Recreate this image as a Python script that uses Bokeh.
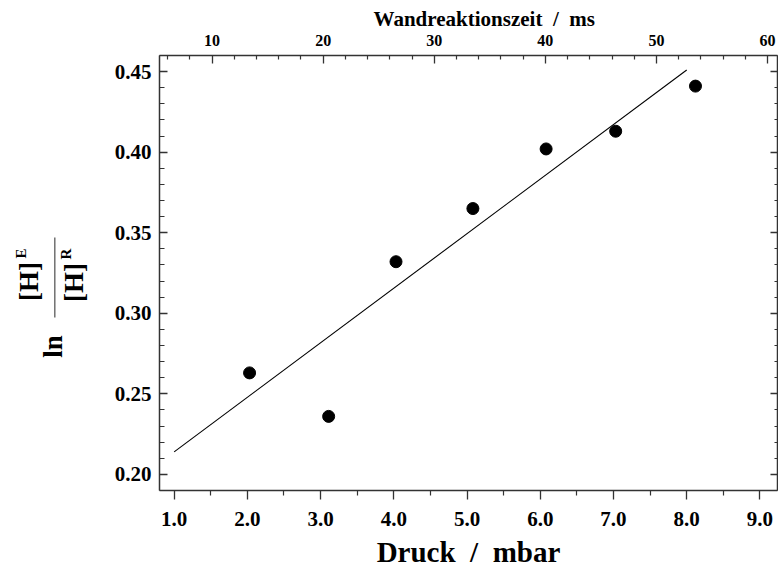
import math
from bokeh.plotting import figure
from bokeh.layouts import row
from bokeh.models import (LinearAxis, Range1d, FixedTicker, PrintfTickFormatter,
                          Label, BoxAnnotation)
from bokeh.embed import file_html
from bokeh.resources import INLINE

# ---- data ----
pressure_mbar = [2.03, 3.11, 4.03, 5.08, 6.08, 7.03, 8.12]
ln_ratio = [0.263, 0.236, 0.332, 0.365, 0.402, 0.413, 0.441]
fit_pressure = [1.0, 8.0]
fit_ln_ratio = [0.214, 0.451]

x_ticks = [1.0, 2.0, 3.0, 4.0, 5.0, 6.0, 7.0, 8.0, 9.0]
x_minor_ticks = [1.5, 2.5, 3.5, 4.5, 5.5, 6.5, 7.5, 8.5]
y_ticks = [0.20, 0.25, 0.30, 0.35, 0.40, 0.45]
y_minor_ticks = [round(0.19 + 0.01 * i, 2) for i in range(28)]
ms_ticks = [10, 20, 30, 40, 50, 60]
ms_minor_ticks = [6, 8, 12, 14, 16, 18, 22, 24, 26, 28, 32, 34, 36, 38,
                  42, 44, 46, 48, 52, 54, 56, 58]
MS_PER_MBAR = 6.59

X0, X1 = 0.8, 9.24
Y0, Y1 = 0.19, 0.46

TOTAL_W, H = 778, 571
LEFT_W = 100
W = TOTAL_W - LEFT_W
BL, BR, BT, BB = 59, 1, 55, 81
FONT = "Liberation Serif"
AXC = "#333333"
NB = "\u00a0"

p = figure(width=W, height=H, x_range=Range1d(X0, X1), y_range=Range1d(Y0, Y1),
           output_backend="svg", toolbar_location=None,
           min_border_left=BL, min_border_right=BR, min_border_top=BT,
           min_border_bottom=BB)
p.extra_x_ranges = {"ms": Range1d(X0 * MS_PER_MBAR, X1 * MS_PER_MBAR)}
p.outline_line_color = None
p.xgrid.visible = False
p.ygrid.visible = False
p.background_fill_color = "white"
p.border_fill_color = "white"


def style_axis(a):
    a.axis_line_color = AXC
    a.axis_line_width = 1.5
    a.major_tick_line_color = AXC
    a.minor_tick_line_color = AXC
    a.major_tick_line_width = 1.3
    a.minor_tick_line_width = 1.2
    a.major_label_text_color = "black"
    a.axis_label_text_color = "black"


# bottom axis
xa = p.xaxis[0]
xa.ticker = FixedTicker(ticks=x_ticks, minor_ticks=x_minor_ticks)
xa.formatter = PrintfTickFormatter(format="%.1f")
xa.axis_label = "Druck" + NB * 2 + "/" + NB * 2 + "mbar"
xa.axis_label_text_font = FONT
xa.axis_label_text_font_style = "bold"
xa.axis_label_text_font_size = "29px"
xa.axis_label_standoff = 7
xa.major_label_text_font = FONT
xa.major_label_text_font_style = "bold"
xa.major_label_text_font_size = "21px"
xa.major_label_standoff = 12
xa.major_tick_in = 0
xa.major_tick_out = 9
xa.minor_tick_in = 0
xa.minor_tick_out = 5
style_axis(xa)

# left axis
ya = p.yaxis[0]
ya.ticker = FixedTicker(ticks=y_ticks, minor_ticks=y_minor_ticks)
ya.formatter = PrintfTickFormatter(format="%.2f")
ya.major_label_text_font = FONT
ya.major_label_text_font_style = "bold"
ya.major_label_text_font_size = "21px"
ya.major_label_standoff = 8
ya.major_tick_in = 8
ya.major_tick_out = 0
ya.minor_tick_in = 5
ya.minor_tick_out = 0
style_axis(ya)

# top axis (ms)
ta = LinearAxis(x_range_name="ms",
                ticker=FixedTicker(ticks=ms_ticks, minor_ticks=ms_minor_ticks),
                formatter=PrintfTickFormatter(format="%d"))
ta.axis_label = NB * 6 + "Wandreaktionszeit" + NB * 2 + "/" + NB * 2 + "ms"
ta.axis_label_text_font = FONT
ta.axis_label_text_font_style = "bold"
ta.axis_label_text_font_size = "21px"
ta.axis_label_standoff = 1
ta.major_label_text_font = FONT
ta.major_label_text_font_style = "bold"
ta.major_label_text_font_size = "16px"
ta.major_label_standoff = 10
ta.major_tick_in = 8
ta.major_tick_out = 0
ta.minor_tick_in = 4
ta.minor_tick_out = 0
style_axis(ta)
p.add_layout(ta, "above")

# right axis (ticks only)
ra = LinearAxis(ticker=FixedTicker(ticks=y_ticks, minor_ticks=y_minor_ticks),
                formatter=PrintfTickFormatter(format="%.2f"))
ra.major_label_text_font_size = "0px"
ra.major_label_standoff = 0
ra.major_tick_in = 7
ra.major_tick_out = 0
ra.minor_tick_in = 3
ra.minor_tick_out = 0
style_axis(ra)
ra.major_label_text_color = None
p.add_layout(ra, "right")

# data
p.line(fit_pressure, fit_ln_ratio, line_color="black", line_width=1.1)
p.scatter(pressure_mbar, ln_ratio, size=12, marker="circle",
          fill_color="black", line_color="black")

# ---- left strip holding the y-axis label: ln [H]^E / [H]^R ----
# its frame is aligned with the main frame; ranges are in page pixels
q = figure(width=LEFT_W, height=H, x_range=Range1d(0, LEFT_W),
           y_range=Range1d(H - BB, BT), output_backend="svg",
           toolbar_location=None, x_axis_type=None, y_axis_type=None,
           min_border_left=0, min_border_right=0, min_border_top=BT,
           min_border_bottom=BB)
q.outline_line_color = None
q.background_fill_color = "white"
q.border_fill_color = "white"


def rlabel(text, x, y, size):
    q.add_layout(Label(x=x, y=y, text=text, angle=math.pi / 2,
                       text_align="center", text_baseline="middle",
                       text_font=FONT, text_font_style="bold",
                       text_font_size=size, text_color="black"))


rlabel("ln", 52, 346, "27px")
rlabel("[H]", 28.5, 281, "27px")
rlabel("E", 20.5, 253, "15px")
rlabel("[H]", 73.5, 282, "27px")
rlabel("R", 65.5, 253.5, "15px")

q.add_layout(BoxAnnotation(left=53.6, right=55.0, top=237, bottom=317,
                           fill_color="#666666", fill_alpha=1.0,
                           line_color=None))

layout = row(q, p, spacing=0)
open("out.html", "w").write(file_html(layout, INLINE))
